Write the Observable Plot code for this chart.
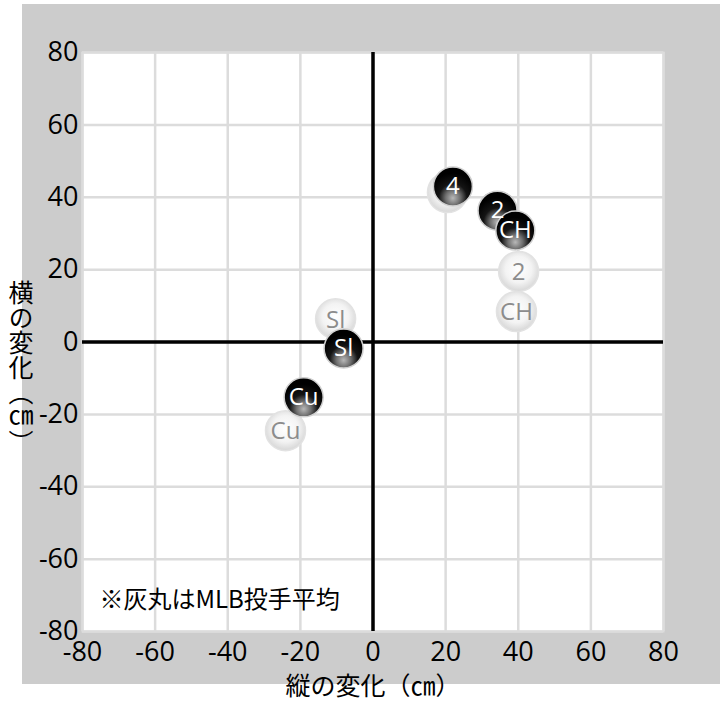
<!DOCTYPE html>
<html><head><meta charset="utf-8">
<script src="https://cdn.jsdelivr.net/npm/d3@7"></script>
<script src="https://cdn.jsdelivr.net/npm/@observablehq/plot@0.6"></script>
<style>
body{margin:0;background:#fff;}
#wrap{position:relative;width:720px;height:712px;overflow:hidden;}
#bg{position:absolute;left:22px;top:4px;width:698px;height:680px;background:#cccccc;}
#chart{position:absolute;left:0;top:0;}
#ylab{position:absolute;left:6px;top:280px;font-family:"Noto Sans CJK JP";font-size:25px;line-height:30px;writing-mode:vertical-rl;color:#000;}
</style></head>
<body><div id="wrap"><div id="bg"></div><div id="chart"></div><div id="ylab">横の変化（㎝）</div></div>
<script>
const pitches = ["4", "2", "CH", "Sl", "Cu"];
const playerV = [22, 34.3, 39.2, -8.1, -19.1];
const playerH = [43, 36.3, 30.8, -1.8, -15.3];
const mlbV = [20.5, 40.1, 39.5, -10.3, -24.1];
const mlbH = [41.3, 19.5, 8.4, 6.4, -24.5];
const ticks = [-80, -60, -40, -20, 0, 20, 40, 60, 80];
const note = "※灰丸はMLB投手平均";
const xLabel = "縦の変化（㎝）";

const player = pitches.map((p, i) => ({p, v: playerV[i], h: playerH[i]}));
const mlb = pitches.map((p, i) => ({p, v: mlbV[i], h: mlbH[i]}));

const defs = () => {
  const d = d3.create("svg:defs");
  const b = d.append("radialGradient").attr("id", "blackBall")
    .attr("cx", "50%").attr("cy", "78%").attr("r", "62%").attr("fx", "50%").attr("fy", "80%");
  b.append("stop").attr("offset", "0%").attr("stop-color", "#b8b8b8");
  b.append("stop").attr("offset", "30%").attr("stop-color", "#707070");
  b.append("stop").attr("offset", "58%").attr("stop-color", "#141414");
  b.append("stop").attr("offset", "100%").attr("stop-color", "#000");
  const g = d.append("radialGradient").attr("id", "grayBall")
    .attr("cx", "50%").attr("cy", "45%").attr("r", "55%");
  g.append("stop").attr("offset", "0%").attr("stop-color", "#ffffff");
  g.append("stop").attr("offset", "60%").attr("stop-color", "#f3f3f3");
  g.append("stop").attr("offset", "100%").attr("stop-color", "#d6d6d6");
  return d.node();
};

const fmt = d => String(d);

const chart = Plot.plot({
  width: 720, height: 712,
  marginLeft: 82, marginRight: 57, marginTop: 52, marginBottom: 81,
  style: {fontFamily: "Open Sans", fontSize: "27px", color: "#000", background: "transparent", overflow: "visible"},
  x: {domain: [-80, 80], ticks, label: null},
  y: {domain: [-80, 80], ticks, label: null},
  marks: [
    defs,
    Plot.frame({fill: "white", stroke: "#dcdcdc", strokeWidth: 2}),
    Plot.ruleX(ticks, {stroke: "#dcdcdc", strokeWidth: 2.5}),
    Plot.ruleY(ticks, {stroke: "#dcdcdc", strokeWidth: 2.5}),
    Plot.ruleX([0], {stroke: "#000", strokeWidth: 3.5}),
    Plot.ruleY([0], {stroke: "#000", strokeWidth: 3.5}),
    Plot.axisX({ticks, tickSize: 0, tickPadding: 10, label: null, fontSize: 27, tickFormat: fmt}),
    Plot.axisY({ticks, tickSize: 0, tickPadding: 4, label: null, fontSize: 27, tickFormat: fmt}),
    Plot.dot(mlb, {x: "v", y: "h", r: 20, fill: "url(#grayBall)", stroke: "#e2e2e2", strokeWidth: 1.5}),
    Plot.text(mlb, {x: "v", y: "h", text: "p", fill: "#8c8c8c", fontSize: 24, dy: 1}),
    Plot.dot(player, {x: "v", y: "h", r: 19.5, fill: "url(#blackBall)", stroke: "#d0d0d0", strokeWidth: 1.5}),
    Plot.text(player, {x: "v", y: "h", text: "p", fill: "#fff", fontSize: 24, dy: 0}),
    Plot.text([note], {frameAnchor: "bottom-left", text: d => d, dx: 17, dy: -24, textAnchor: "start", fontFamily: "Noto Sans CJK JP", fontSize: 24, fill: "#000"}),
    Plot.text([xLabel], {frameAnchor: "bottom", text: d => d, dy: 63, fontFamily: "Noto Sans CJK JP", fontSize: 25, fill: "#000"})
  ]
});
document.getElementById("chart").appendChild(chart);
</script></body></html>
